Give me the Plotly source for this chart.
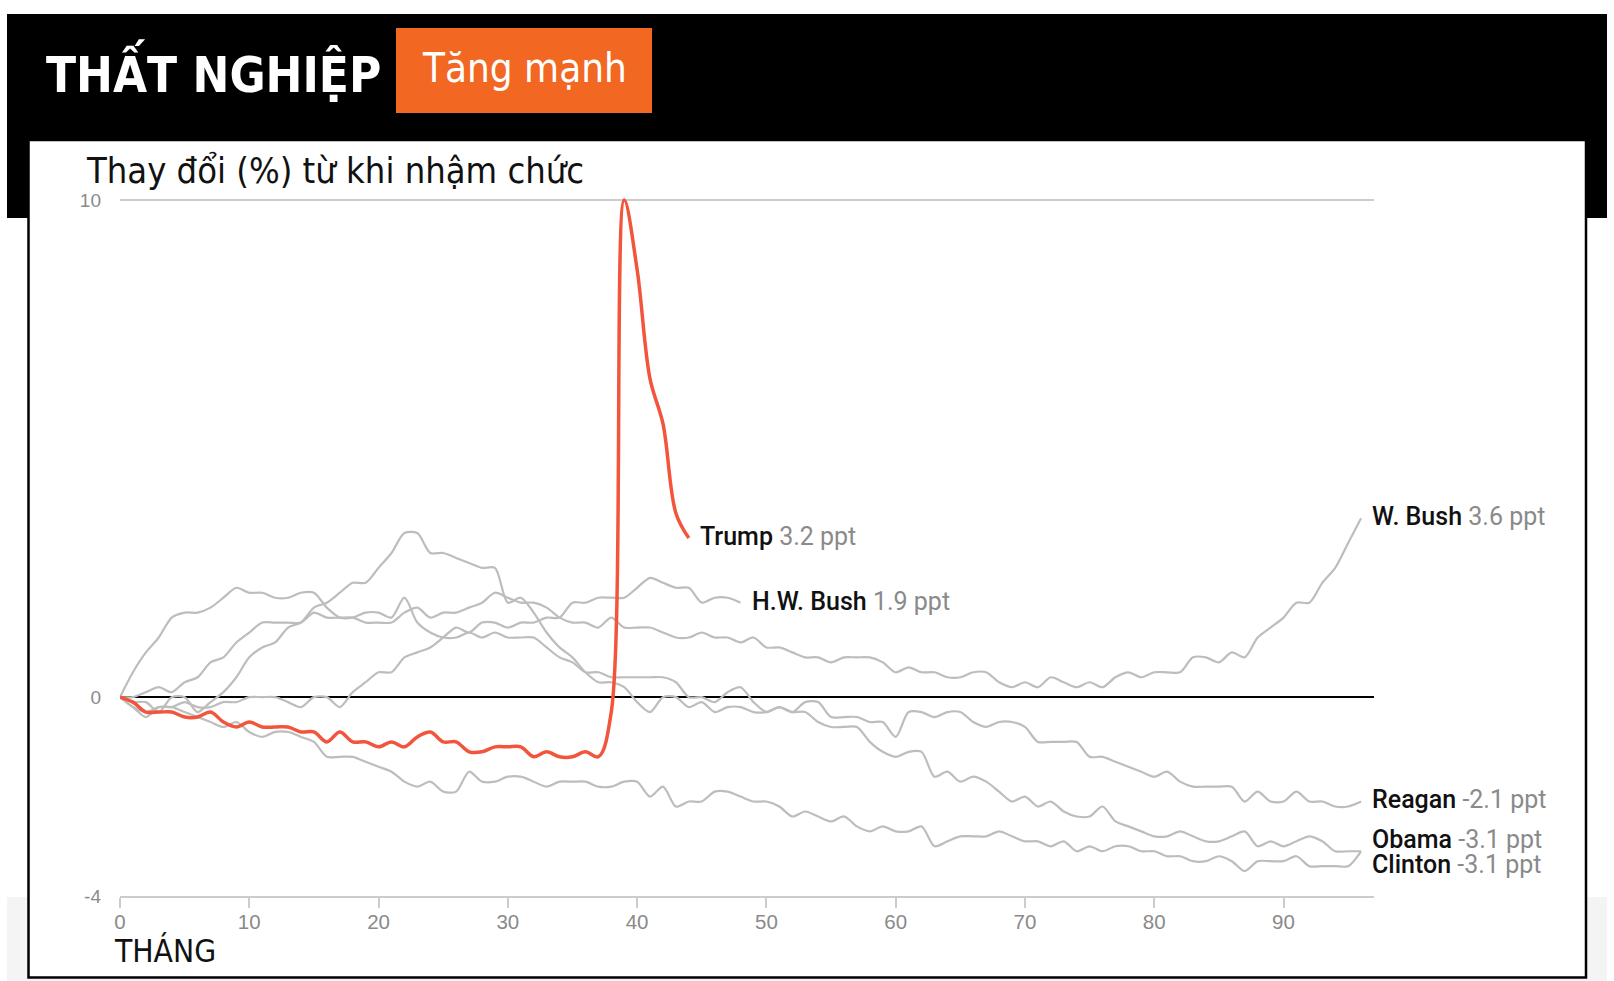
import plotly.graph_objects as go

# ---------------- data (change in unemployment rate since taking office, ppt) ----------------
reagan = [0, -0.1, -0.1, -0.3, 0, 0, -0.3, -0.1, 0.1, 0.4, 0.8, 1.0,
          1.1, 1.4, 1.5, 1.8, 1.9, 2.1, 2.3, 2.3, 2.6, 2.9, 3.3, 3.3,
          2.9, 2.9, 2.8, 2.7, 2.6, 2.6, 1.9, 2.0, 1.7, 1.3, 1.0, 0.8,
          0.5, 0.3, 0.3, 0.2, -0.1, -0.3, 0, 0, -0.2, -0.1, -0.3, -0.2,
          -0.2, -0.3, -0.3, -0.2, -0.3, -0.1, -0.1, -0.4, -0.4, -0.4, -0.5, -0.5,
          -0.8, -0.3, -0.3, -0.4, -0.3, -0.3, -0.5, -0.6, -0.5, -0.5, -0.6, -0.9,
          -0.9, -0.9, -0.9, -1.2, -1.2, -1.3, -1.4, -1.5, -1.6, -1.5, -1.7, -1.8,
          -1.8, -1.8, -1.8, -2.1, -1.9, -2.1, -2.1, -1.9, -2.1, -2.1, -2.2, -2.2,
          -2.1]

hw_bush = [0, -0.2, -0.4, -0.2, -0.2, -0.1, -0.2, -0.2, -0.1, -0.1, 0, 0,
           0, -0.1, -0.2, 0, 0, -0.2, 0.1, 0.3, 0.5, 0.5, 0.8, 0.9,
           1.0, 1.2, 1.4, 1.3, 1.5, 1.5, 1.4, 1.5, 1.5, 1.6, 1.6, 1.9,
           1.9, 2.0, 2.0, 2.0, 2.2, 2.4, 2.3, 2.2, 2.2, 1.9, 2.0, 2.0,
           1.9]

clinton = [0, -0.2, -0.3, -0.2, -0.2, -0.3, -0.4, -0.5, -0.6, -0.5, -0.7, -0.8,
           -0.7, -0.7, -0.8, -0.9, -1.2, -1.2, -1.2, -1.3, -1.4, -1.5, -1.7, -1.8,
           -1.7, -1.9, -1.9, -1.5, -1.7, -1.7, -1.6, -1.6, -1.7, -1.8, -1.7, -1.7,
           -1.7, -1.8, -1.8, -1.7, -1.7, -2.0, -1.8, -2.2, -2.1, -2.1, -1.9, -1.9,
           -2.0, -2.1, -2.1, -2.2, -2.4, -2.3, -2.4, -2.5, -2.4, -2.6, -2.7, -2.6,
           -2.7, -2.7, -2.6, -3.0, -2.9, -2.8, -2.8, -2.8, -2.7, -2.8, -2.9, -2.9,
           -3.0, -2.9, -3.1, -3.0, -3.1, -3.0, -3.0, -3.1, -3.1, -3.2, -3.2, -3.3,
           -3.3, -3.2, -3.3, -3.5, -3.3, -3.3, -3.3, -3.2, -3.4, -3.4, -3.4, -3.4,
           -3.1]

w_bush = [0, 0, 0.1, 0.2, 0.1, 0.3, 0.4, 0.7, 0.8, 1.1, 1.3, 1.5,
          1.5, 1.5, 1.5, 1.7, 1.6, 1.6, 1.6, 1.5, 1.5, 1.5, 1.7, 1.8,
          1.6, 1.7, 1.7, 1.8, 1.9, 2.1, 2.0, 1.9, 1.9, 1.8, 1.6, 1.5,
          1.5, 1.4, 1.6, 1.4, 1.4, 1.4, 1.3, 1.2, 1.2, 1.3, 1.2, 1.2,
          1.1, 1.2, 1.0, 1.0, 0.9, 0.8, 0.8, 0.7, 0.8, 0.8, 0.8, 0.7,
          0.5, 0.6, 0.5, 0.5, 0.4, 0.4, 0.5, 0.5, 0.3, 0.2, 0.3, 0.2,
          0.4, 0.3, 0.2, 0.3, 0.2, 0.4, 0.5, 0.4, 0.5, 0.5, 0.5, 0.8,
          0.8, 0.7, 0.9, 0.8, 1.2, 1.4, 1.6, 1.9, 1.9, 2.3, 2.6, 3.1,
          3.6]

obama = [0, 0.5, 0.9, 1.2, 1.6, 1.7, 1.7, 1.8, 2.0, 2.2, 2.1, 2.1,
         2.0, 2.0, 2.1, 2.1, 1.8, 1.6, 1.6, 1.7, 1.7, 1.6, 2.0, 1.5,
         1.3, 1.2, 1.2, 1.3, 1.2, 1.3, 1.2, 1.2, 1.2, 1.0, 0.8, 0.7,
         0.5, 0.5, 0.4, 0.4, 0.4, 0.4, 0.4, 0.3, 0, 0, -0.1, 0.1,
         0.2, -0.1, -0.3, -0.2, -0.3, -0.3, -0.5, -0.6, -0.6, -0.6, -0.9, -1.1,
         -1.2, -1.1, -1.1, -1.6, -1.5, -1.7, -1.6, -1.7, -1.9, -2.1, -2.0, -2.2,
         -2.1, -2.3, -2.4, -2.4, -2.2, -2.5, -2.6, -2.7, -2.8, -2.8, -2.7, -2.8,
         -2.9, -2.9, -2.8, -2.7, -3.0, -2.9, -3.0, -2.9, -2.8, -2.9, -3.1, -3.1,
         -3.1]

trump = [0, -0.1, -0.3, -0.3, -0.3, -0.4, -0.4, -0.3, -0.5, -0.6, -0.5, -0.6,
         -0.6, -0.6, -0.7, -0.7, -0.9, -0.7, -0.9, -0.9, -1.0, -0.9, -1.0, -0.8,
         -0.7, -0.9, -0.9, -1.1, -1.1, -1.0, -1.0, -1.0, -1.2, -1.1, -1.2, -1.2,
         -1.1, -1.2, -0.3, 10.0, 8.6, 6.4, 5.5, 3.7, 3.2]

grey_names = ["Reagan", "H.W. Bush", "Clinton", "W. Bush", "Obama"]
grey_values = [reagan, hw_bush, clinton, w_bush, obama]

x_tickvals = [0, 10, 20, 30, 40, 50, 60, 70, 80, 90]
y_tickvals = [-4, 0, 10]
y_ticktext = ["-4", "0", "10"]

title_text = "THẤT NGHIỆP"
badge_text = "Tăng mạnh"
subtitle_text = "Thay đổi (%) từ khi nhậm chức"
xlabel_text = "THÁNG"

# ---------------- layout geometry ----------------
W, H = 1614, 981
L, R, T, B = 120, 240, 198, 85


def px(X):
    return (X - L) / (W - L - R)


def py(Y):
    return (H - B - Y) / (H - T - B)


GREY = "#bdbdbd"
RED = "#f2553b"
LABEL_FONT = "Roboto, Liberation Sans, Arial, sans-serif"
TICK_FONT = "Liberation Sans, Arial, sans-serif"
COND_FONT = "DejaVu Sans Condensed, DejaVu Sans, sans-serif"

fig = go.Figure()

for name, vals in zip(grey_names, grey_values):
    fig.add_trace(go.Scatter(
        x=list(range(len(vals))), y=vals, mode="lines", name=name,
        line=dict(color=GREY, width=2.2, shape="spline", smoothing=0.8),
        hoverinfo="skip", showlegend=False))

fig.add_trace(go.Scatter(
    x=list(range(len(trump))), y=trump, mode="lines", name="Trump",
    line=dict(color=RED, width=3.5, shape="spline", smoothing=1.0),
    hoverinfo="skip", showlegend=False))

# end-of-line labels
label_shift = {"Trump": 2, "H.W. Bush": 1, "W. Bush": 2, "Reagan": 2, "Obama": 12, "Clinton": -13}
annotations = []
for name, vals in list(zip(grey_names, grey_values)) + [("Trump", trump)]:
    last = vals[-1]
    annotations.append(dict(
        x=len(vals) - 1, y=last, xref="x", yref="y",
        text=f"<span style='font-weight:500'>{name}</span> <span style='color:#8a8a8a'>{last:.1f} ppt</span>",
        showarrow=False, xanchor="left", yanchor="middle",
        xshift=9, yshift=label_shift[name],
        font=dict(family=LABEL_FONT, size=25, color="#111111")))

annotations += [
    dict(x=px(44), y=py(71.5), xref="paper", yref="paper", text=f"<b>{title_text}</b>",
         showarrow=False, xanchor="left", yanchor="middle",
         font=dict(family=COND_FONT, size=49, color="white")),
    dict(x=px(524), y=py(68), xref="paper", yref="paper", text=badge_text,
         showarrow=False, xanchor="center", yanchor="middle",
         font=dict(family=COND_FONT, size=40, color="white")),
    dict(x=px(84), y=py(171), xref="paper", yref="paper", text=subtitle_text,
         showarrow=False, xanchor="left", yanchor="middle",
         font=dict(family=COND_FONT, size=36, color="#111111")),
    dict(x=px(112), y=py(950), xref="paper", yref="paper", text=xlabel_text,
         showarrow=False, xanchor="left", yanchor="middle",
         font=dict(family=COND_FONT, size=31.5, color="#111111")),
]

shapes = [
    dict(type="rect", xref="paper", yref="paper", x0=px(7), x1=px(1607), y0=py(981), y1=py(897),
         fillcolor="#f4f4f4", line=dict(width=0), layer="below"),
    dict(type="rect", xref="paper", yref="paper", x0=px(7), x1=px(1607), y0=py(218), y1=py(14),
         fillcolor="black", line=dict(width=0), layer="below"),
    dict(type="rect", xref="paper", yref="paper", x0=px(28.5), x1=px(1586), y0=py(977.5), y1=py(140),
         fillcolor="white", line=dict(color="black", width=2.5), layer="below"),
    dict(type="rect", xref="paper", yref="paper", x0=px(396), x1=px(652), y0=py(113), y1=py(28),
         fillcolor="#f26722", line=dict(width=0), layer="below"),
]

fig.update_layout(
    width=W, height=H, autosize=False,
    margin=dict(l=L, r=R, t=T, b=B, pad=0),
    paper_bgcolor="white", plot_bgcolor="rgba(0,0,0,0)",
    showlegend=False,
    annotations=annotations, shapes=shapes,
    xaxis=dict(range=[0, 97], tickvals=x_tickvals, showgrid=False, zeroline=False,
               showline=True, linecolor="#cccccc", linewidth=2,
               ticks="outside", ticklen=10, tickwidth=2, tickcolor="#cccccc",
               ticklabelstandoff=-4,
               tickfont=dict(family=TICK_FONT, size=20.5, color="#8a8a8a")),
    yaxis=dict(range=[-4, 10.04], tickvals=y_tickvals, ticktext=y_ticktext,
               showgrid=True, gridcolor="#cccccc",
               gridwidth=2, zeroline=True, zerolinecolor="black", zerolinewidth=2,
               showline=False, ticks="", ticklabelstandoff=18,
               tickfont=dict(family=TICK_FONT, size=19, color="#8a8a8a")),
)

fig.write_html("out.html", config={"displayModeBar": False},
               post_script="document.body.style.margin='0';")
